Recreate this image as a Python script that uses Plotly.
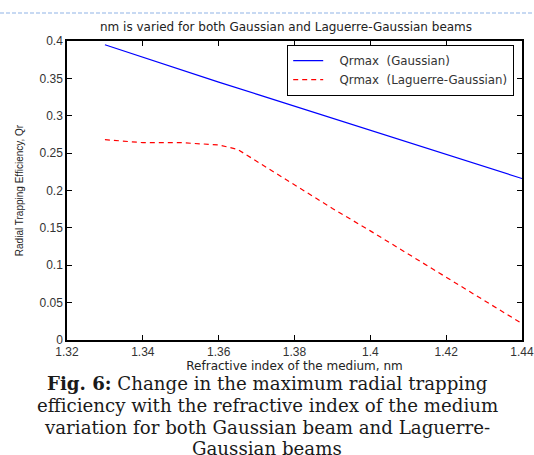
import plotly.graph_objects as go

# Refractive index of the surrounding medium
n_medium = [1.33, 1.34, 1.35, 1.36, 1.37, 1.38, 1.39, 1.40, 1.41, 1.42, 1.43, 1.44]
# Maximum radial trapping efficiency, Gaussian beam
q_gauss = [0.395, 0.378, 0.361, 0.345, 0.329, 0.313, 0.297, 0.281, 0.264, 0.248, 0.232, 0.216]

n_medium_lg = [1.33, 1.335, 1.34, 1.35, 1.355, 1.36, 1.365, 1.37, 1.38, 1.39, 1.40,
               1.41, 1.42, 1.43, 1.44]
# Maximum radial trapping efficiency, Laguerre-Gaussian beam
q_lg = [0.268, 0.266, 0.264, 0.264, 0.263, 0.261, 0.255, 0.239, 0.207, 0.176, 0.146,
        0.115, 0.084, 0.053, 0.022]

x_ticks = [1.32, 1.34, 1.36, 1.38, 1.40, 1.42, 1.44]
x_tick_labels = ["1.32", "1.34", "1.36", "1.38", "1.4", "1.42", "1.44"]
y_ticks = [0, 0.05, 0.10, 0.15, 0.20, 0.25, 0.30, 0.35, 0.40]
y_tick_labels = ["0", "0.05", "0.1", "0.15", "0.2", "0.25", "0.3", "0.35", "0.4"]

caption_lines = [
    "<b>Fig. 6:</b> Change in the maximum radial trapping",
    "efficiency with the refractive index of the medium",
    "variation for both Gaussian beam and Laguerre-",
    "Gaussian beams",
]

W, H = 534, 455
L, R, T, B = 67, 12, 41, 115
plot_w = W - L - R
plot_h = H - T - B

SANS = "Liberation Sans, Arial"
WIDE = "DejaVu Sans"

fig = go.Figure()
fig.add_trace(go.Scatter(
    x=n_medium, y=q_gauss, mode="lines", name="\u00a0\u00a0\u00a0Qrmax  (Gaussian)",
    line=dict(color="#0000ff", width=1.2),
))
fig.add_trace(go.Scatter(
    x=n_medium_lg, y=q_lg, mode="lines", name="\u00a0\u00a0\u00a0Qrmax  (Laguerre-Gaussian)",
    line=dict(color="#ff0000", width=1.2, dash="5px,4px"),
))

axis_common = dict(
    showgrid=False, zeroline=False, showline=True, linecolor="black", linewidth=1.5,
    mirror="ticks", ticks="inside", ticklen=5, tickcolor="black", tickwidth=1.2,
    tickfont=dict(family=SANS, size=12, color="#333333"),
    automargin=False, ticklabeloverflow="allow",
)

fig.update_xaxes(
    range=[1.32, 1.44], tickvals=x_ticks, ticktext=x_tick_labels,
    title=dict(text="Refractive index of the medium, nm", standoff=2,
               font=dict(family=WIDE, size=12, color="#222222")),
    **axis_common,
)
fig.update_yaxes(
    range=[0, 0.4], tickvals=y_ticks, ticktext=y_tick_labels,
    title=dict(text="Radial Trapping Efficiency, Qr", standoff=14,
               font=dict(family=SANS, size=10, color="#222222")),
    **axis_common,
)

annotations = [dict(
    text="nm is varied for both Gaussian and Laguerre-Gaussian beams",
    xref="paper", yref="paper", x=(286 - L) / plot_w, y=(H - B - 27) / plot_h,
    xanchor="center", yanchor="middle", showarrow=False,
    font=dict(family=WIDE, size=12, color="#222222"),
)]
caption_y_px = [384, 405.5, 427, 448]
for line, ypx in zip(caption_lines, caption_y_px):
    annotations.append(dict(
        text=line, xref="paper", yref="paper",
        x=(267 - L) / plot_w, y=(H - B - ypx) / plot_h,
        xanchor="center", yanchor="middle", showarrow=False,
        font=dict(family="DejaVu Serif", size=18.2, color="#1a1a1a"),
    ))

fig.update_layout(
    width=W, height=H,
    margin=dict(l=L, r=R, t=T, b=B),
    paper_bgcolor="white", plot_bgcolor="white",
    showlegend=True,
    legend=dict(
        x=(287 - L) / plot_w, y=(H - B - 45) / plot_h,
        xanchor="left", yanchor="top",
        bgcolor="white", bordercolor="black", borderwidth=1.2,
        font=dict(family=WIDE, size=11.8, color="#333333"),
        tracegroupgap=0, itemwidth=30,
    ),
    annotations=annotations,
    shapes=[dict(
        type="line", xref="paper", yref="paper",
        x0=-L / plot_w, x1=(W - L) / plot_w,
        y0=(H - B - 13) / plot_h, y1=(H - B - 13) / plot_h,
        line=dict(color="#8fb3e6", width=1, dash="4px,2px"),
    )],
)

fig.write_html("out.html")
